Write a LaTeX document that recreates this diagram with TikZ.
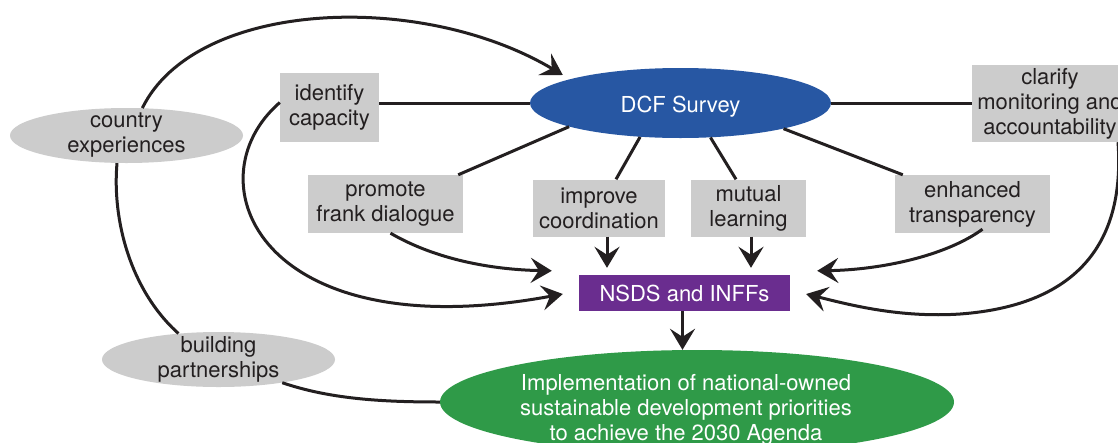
\documentclass[tikz,border=0pt]{standalone}
\usepackage{fontspec}
\setmainfont{TeX Gyre Heros}
\usetikzlibrary{arrows.meta,calc,shapes.geometric}
\definecolor{dcfblue}{HTML}{2757A3}
\definecolor{nsdspurple}{HTML}{6A2D8F}
\definecolor{implgreen}{HTML}{2F9A48}
\definecolor{boxgray}{HTML}{CCCCCC}
\definecolor{linec}{HTML}{231F20}
\begin{document}
\begin{tikzpicture}[x=1pt,y=-1pt,
  font=\fontsize{22}{25}\selectfont,
  graybox/.style={fill=boxgray, inner sep=0pt, align=center, text=linec},
  ell/.style={ellipse, inner sep=0pt},
  conn/.style={draw=linec, line width=3pt},
  arr/.style={conn, -{Stealth[length=21pt,width=25pt,inset=8pt]}},
]
\useasboundingbox (0,0) rectangle (1118,442);
\fill[white] (0,0) rectangle (1118,442);

% ellipses
\node[ell, fill=dcfblue, minimum width=301, minimum height=70] (dcf) at (680.5,103) {};
\node[text=white] (dcft) at (680.5,106.5) {DCF Survey};
\node[ell, fill=boxgray, minimum width=233, minimum height=55] (ce) at (126.5,135.5) {};
\node[align=center, text=linec] (cet) at (ce) {country\\experiences};
\node[ell, fill=boxgray, minimum width=233, minimum height=55] (bp) at (218.5,359.5) {};
\node[align=center, text=linec] (bpt) at (bp) {building\\partnerships};
\node[ell, fill=implgreen, minimum width=514, minimum height=104] (gr) at (697,402) {};
\node[align=center, text=white] (grt) at (686,410) {Implementation of national-owned\\sustainable development priorities\\to achieve the 2030 Agenda};

% boxes
\node[graybox, minimum width=99, minimum height=69] (idc) at (329.5,107.5) {identify\\capacity};
\node[graybox, minimum width=156, minimum height=77] (cl) at (1050,103.5) {clarify\\monitoring and\\accountability};
\node[graybox, minimum width=155, minimum height=58] (pr) at (385.5,204) {promote\\frank dialogue};
\node[graybox, minimum width=132, minimum height=57] (im) at (599,208) {improve\\coordination};
\node[graybox, minimum width=115, minimum height=57] (mu) at (748.5,208) {mutual\\learning};
\node[graybox, minimum width=155, minimum height=58] (en) at (972.5,204) {enhanced\\transparency};
\node[fill=nsdspurple, text=white, minimum width=211, minimum height=36, inner sep=0pt] (ns) at (684.5,293) {NSDS and INFFs};

% spokes from DCF Survey
\draw[conn] (idc.east |- dcf.west) -- (dcf.west);
\draw[conn] (dcf.east) -- (cl.west |- dcf.east);
\draw[conn] (dcf.192) -- ($(pr.north east)+(-5,0)$);
\draw[conn] (dcf.220) -- ($(im.north)+(17,0)$);
\draw[conn] (dcf.311) -- ($(mu.north)+(-12.5,0)$);
\draw[conn] (dcf.346) -- ($(en.north west)+(8,0)$);

% arrows into NSDS
\draw[arr] ($(im.south)+(8,0)$) -- ($(im.south |- ns.north)+(8,-7)$);
\draw[arr] ($(mu.south)+(2.5,0)$) -- ($(mu.south |- ns.north)+(2.5,-7)$);
\draw[arr] ($(pr.south)+(5,0)$) .. controls +(50,29) and +(-52,-1) .. ($(ns.north west)+(-27,-4)$);
\draw[arr] ($(en.south)+(10,-4)$) .. controls +(-37,27) and +(63,-1) .. ($(ns.north east)+(27,-4)$);
\draw[arr] ($(idc.west)+(0,-5)$) .. controls +(-90,78) and +(-303,56) .. ($(ns.west)+(-16,1)$);
\draw[arr] ($(cl.south)+(68,0)$) .. controls +(7,98) and +(120,-9) .. ($(ns.east)+(170,21)$)
   .. controls +(-60,4) and +(44,11) .. ($(ns.east)+(16,1)$);

% NSDS to implementation
\draw[arr] ($(ns.south)+(-2,0)$) -- ($(ns.south |- gr.north)+(-2,0)$);

% outer loop
\draw[conn] (bp.147) .. controls +(-48,-43) and +(-5,57) .. (ce.251);
\draw[arr] (ce.60) .. controls +(53,-108) and +(-143,-85) .. ($(dcf.west)+(33,-28)$);
\draw[conn] (bp.340) .. controls +(47,16) and +(-60,0) .. (gr.west);
\end{tikzpicture}
\end{document}
